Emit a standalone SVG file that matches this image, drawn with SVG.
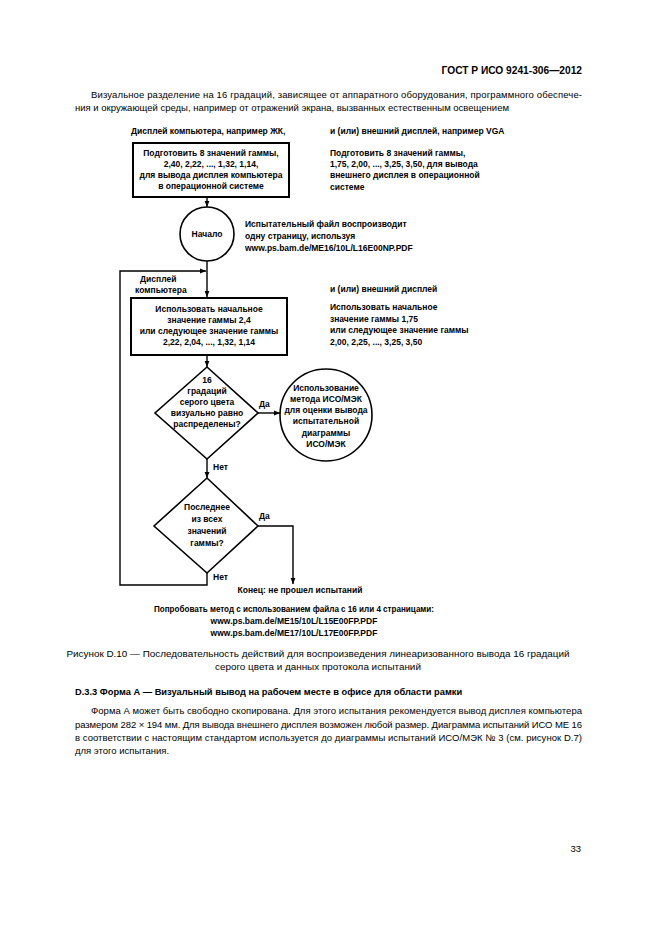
<svg xmlns="http://www.w3.org/2000/svg" width="661" height="935" viewBox="0 0 661 935">
<defs>
<marker id="arr" viewBox="0 0 10 10" refX="10" refY="5" markerWidth="6" markerHeight="6" orient="auto" markerUnits="userSpaceOnUse">
<path d="M0,1 L10,5 L0,9 z" fill="#000"/>
</marker>
</defs>
<style>
text{font-family:"Liberation Sans",Arial,sans-serif;fill:#000}
.hd{font-size:10.2px;font-weight:bold}
.p{font-size:9.5px}
.cap{font-size:9.9px}
.f{font-size:8.5px;font-weight:bold}
.c{text-anchor:middle}
.box{fill:#fff;stroke:#000;stroke-width:2}
.shape{fill:#fff;stroke:#000;stroke-width:1.6}
.ln{fill:none;stroke:#000;stroke-width:1.4}
</style>
<rect width="661" height="935" fill="#fff"/>
<text class="hd" x="582" y="74" text-anchor="end">ГОСТ Р ИСО 9241-306—2012</text>
<g id="intro">
<text class="p" x="91" y="98" textLength="491" lengthAdjust="spacing">Визуальное разделение на 16 градаций, зависящее от аппаратного оборудования, программного обеспече-</text>
<text class="p" x="75" y="111">ния и окружающей среды, например от отражений экрана, вызванных естественным освещением</text>
</g>
<g id="labels-top">
<text class="f" x="131" y="134">Дисплей компьютера, например ЖК,</text>
<text class="f" x="330" y="134">и (или) внешний дисплей, например VGA</text>
<text class="f" x="330" y="156">Подготовить 8 значений гаммы,</text>
<text class="f" x="330" y="167">1,75, 2,00, ..., 3,25, 3,50, для вывода</text>
<text class="f" x="330" y="178">внешнего дисплея в операционной</text>
<text class="f" x="330" y="190">системе</text>
</g>
<g id="box1">
<rect class="box" x="133" y="143" width="156" height="54"/>
<text class="f c" x="211" y="156">Подготовить 8 значений гаммы,</text>
<text class="f c" x="211" y="167">2,40, 2,22, ..., 1,32, 1,14,</text>
<text class="f c" x="211" y="178">для вывода дисплея компьютера</text>
<text class="f c" x="211" y="189">в операционной системе</text>
</g>
<g id="start">
<circle class="shape" cx="207" cy="234" r="27"/>
<text class="f c" x="207" y="237">Начало</text>
<text class="f" x="245" y="227">Испытательный файл воспроизводит</text>
<text class="f" x="245" y="239">одну страницу, используя</text>
<text class="f" x="245" y="251">www.ps.bam.de/ME16/10L/L16E00NP.PDF</text>
</g>
<g id="loop-label">
<text class="f" x="140" y="282">Дисплей</text>
<text class="f" x="135" y="293">компьютера</text>
</g>
<g id="box2">
<rect class="box" x="131" y="298" width="156" height="57"/>
<text class="f c" x="209" y="312">Использовать начальное</text>
<text class="f c" x="209" y="323">значение гаммы 2,4</text>
<text class="f c" x="209" y="334">или следующее значение гаммы</text>
<text class="f c" x="209" y="345">2,22, 2,04, ..., 1,32, 1,14</text>
</g>
<g id="ext-display">
<text class="f" x="330" y="292">и (или) внешний дисплей</text>
<text class="f" x="330" y="310">Использовать начальное</text>
<text class="f" x="330" y="322">значение гаммы 1,75</text>
<text class="f" x="330" y="333">или следующее значение гаммы</text>
<text class="f" x="330" y="345">2,00, 2,25, ..., 3,25, 3,50</text>
</g>
<g id="decision1">
<polygon class="shape" points="207,367 258,413 207,459 155,413"/>
<text class="f c" x="207" y="383">16</text>
<text class="f c" x="207" y="394">градаций</text>
<text class="f c" x="207" y="405">серого цвета</text>
<text class="f c" x="207" y="416">визуально равно</text>
<text class="f c" x="207" y="427">распределены?</text>
</g>
<g id="iso-method">
<circle class="shape" cx="326" cy="415" r="46"/>
<text class="f c" x="326" y="391">Использование</text>
<text class="f c" x="326" y="402">метода ИСО/МЭК</text>
<text class="f c" x="326" y="413">для оценки вывода</text>
<text class="f c" x="326" y="424">испытательной</text>
<text class="f c" x="326" y="436">диаграммы</text>
<text class="f c" x="326" y="447">ИСО/МЭК</text>
</g>
<g id="decision2">
<polygon class="shape" points="207,478 258,526 207,573 154,526"/>
<text class="f c" x="207" y="510">Последнее</text>
<text class="f c" x="207" y="522">из всех</text>
<text class="f c" x="207" y="534">значений</text>
<text class="f c" x="207" y="546">гаммы?</text>
</g>
<g id="end">
<text class="f c" x="300" y="593">Конец: не прошел испытаний</text>
</g>
<g id="retry">
<text class="f c" x="294" y="612" textLength="280" lengthAdjust="spacingAndGlyphs">Попробовать метод с использованием файла с 16 или 4 страницами:</text>
<text class="f c" x="294" y="624">www.ps.bam.de/ME15/10L/L15E00FP.PDF</text>
<text class="f c" x="294" y="636">www.ps.bam.de/ME17/10L/L17E00FP.PDF</text>
</g>
<g id="connectors">
<line class="ln" x1="207" y1="197" x2="207" y2="207" marker-end="url(#arr)"/>
<line class="ln" x1="207" y1="261" x2="207" y2="297" marker-end="url(#arr)"/>
<polyline class="ln" points="207,573 207,585 120,585 120,271 206,271" marker-end="url(#arr)"/>
<line class="ln" x1="207" y1="355" x2="207" y2="367" marker-end="url(#arr)"/>
<line class="ln" x1="258" y1="413" x2="280" y2="413" marker-end="url(#arr)"/>
<line class="ln" x1="207" y1="459" x2="207" y2="478" marker-end="url(#arr)"/>
<polyline class="ln" points="258,526 293,526 293,584" marker-end="url(#arr)"/>
<text class="f" x="259" y="407">Да</text>
<text class="f" x="213" y="470">Нет</text>
<text class="f" x="259" y="519">Да</text>
<text class="f" x="213" y="580">Нет</text>
</g>
<g id="caption">
<text class="cap" x="318" y="657" text-anchor="middle">Рисунок D.10 — Последовательность действий для воспроизведения линеаризованного вывода 16 градаций</text>
<text class="cap" x="318" y="670" text-anchor="middle">серого цвета и данных протокола испытаний</text>
</g>
<g id="section">
<text x="75" y="695" font-size="9.3" font-weight="bold">D.3.3 Форма А — Визуальный вывод на рабочем месте в офисе для области рамки</text>
<text class="p" x="91" y="714" textLength="491" lengthAdjust="spacing">Форма А может быть свободно скопирована. Для этого испытания рекомендуется вывод дисплея компьютера</text>
<text class="p" x="75" y="728" textLength="507" lengthAdjust="spacing">размером 282 × 194 мм. Для вывода внешнего дисплея возможен любой размер. Диаграмма испытаний ИСО МЕ 16</text>
<text class="p" x="75" y="741" textLength="507" lengthAdjust="spacing">в соответствии с настоящим стандартом используется до диаграммы испытаний ИСО/МЭК № 3 (см. рисунок D.7)</text>
<text class="p" x="75" y="754">для этого испытания.</text>
</g>
<text class="p" x="581" y="852" text-anchor="end">33</text>
</svg>
